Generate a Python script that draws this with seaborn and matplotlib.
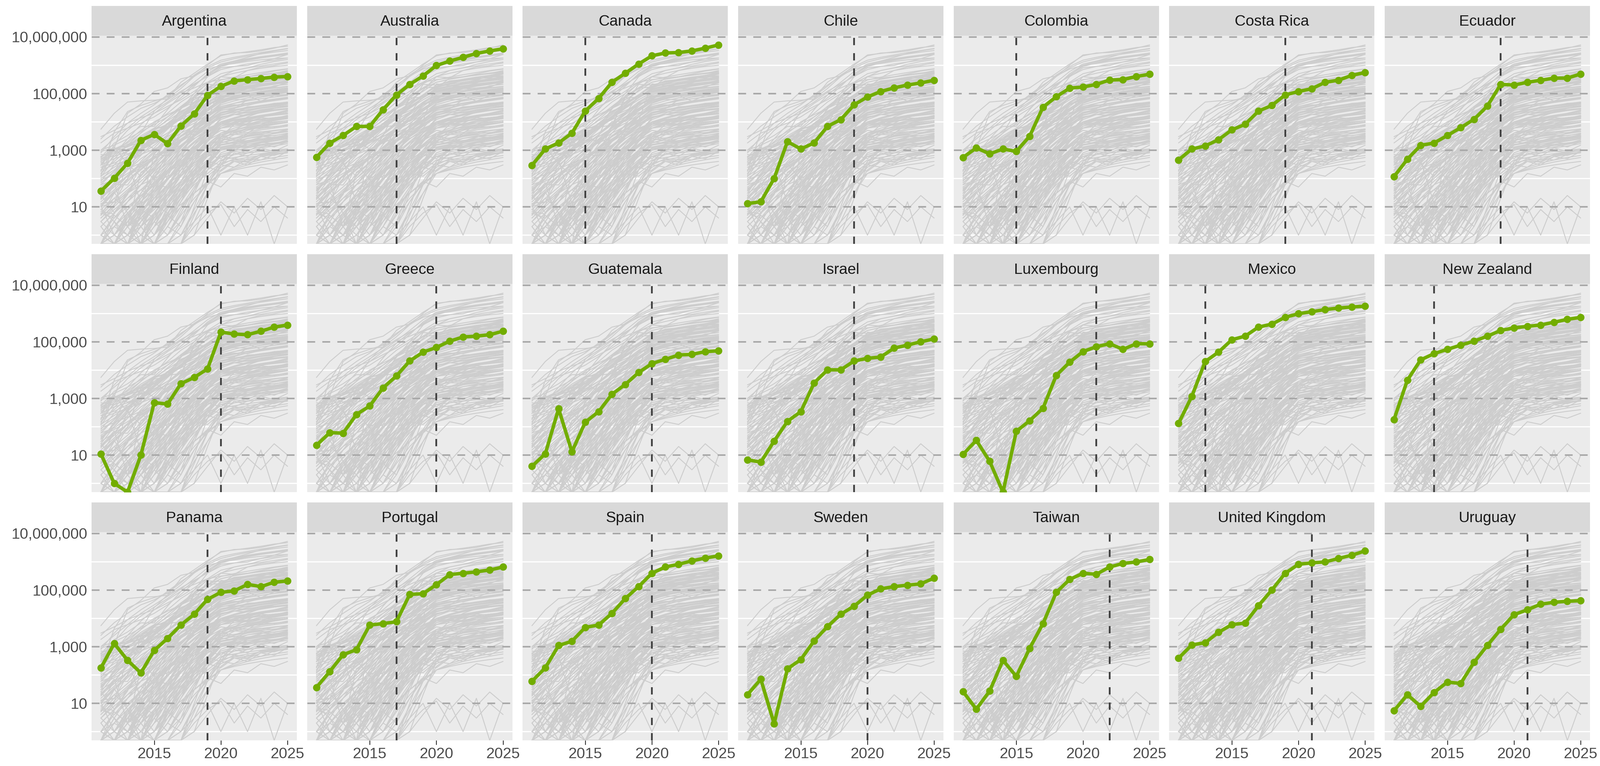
import numpy as np
import pandas as pd
import matplotlib
matplotlib.use("Agg")
import matplotlib.pyplot as plt
import seaborn as sns
from matplotlib.ticker import FixedLocator, FuncFormatter, NullLocator

# ---------------- data ----------------
years = list(range(2011, 2026))

countries = ["Argentina", "Australia", "Canada", "Chile", "Colombia", "Costa Rica", "Ecuador",
             "Finland", "Greece", "Guatemala", "Israel", "Luxembourg", "Mexico", "New Zealand",
             "Panama", "Portugal", "Spain", "Sweden", "Taiwan", "United Kingdom", "Uruguay"]

policy_year = [2019, 2017, 2015, 2019, 2015, 2019, 2019,
               2020, 2020, 2020, 2019, 2021, 2013, 2014,
               2019, 2017, 2020, 2020, 2022, 2021, 2021]

argentina = [36, 102, 350, 2240, 3600, 1700, 7200, 19000, 87000, 180000, 280000, 310000, 340000, 380000, 400000]
australia = [560, 1780, 3300, 6900, 6900, 27000, 89000, 210000, 420000, 980000, 1400000, 1900000, 2600000, 3200000, 3800000]
canada = [290, 1100, 1800, 4000, 24000, 67000, 250000, 520000, 1100000, 2150000, 2700000, 2800000, 3200000, 4000000, 5200000]
chile = [13, 15, 100, 2000, 1100, 1800, 6900, 12000, 40000, 76000, 118000, 158000, 200000, 236000, 295000]
colombia = [550, 1200, 740, 1100, 900, 3100, 33000, 77000, 155000, 170000, 210000, 300000, 310000, 400000, 480000]
costa_rica = [450, 1100, 1400, 2350, 5200, 8200, 24000, 38000, 89000, 118000, 148000, 250000, 295000, 440000, 550000]
ecuador = [115, 480, 1480, 1780, 3300, 6200, 12300, 36000, 210000, 200000, 250000, 295000, 350000, 350000, 490000]
finland = [11, 1, 0, 10, 710, 630, 3300, 5500, 11000, 220000, 188000, 178000, 236000, 330000, 390000]
greece = [22, 62, 59, 270, 540, 2350, 6200, 21000, 43000, 63000, 105000, 148000, 158000, 178000, 236000]
guatemala = [4, 11, 430, 13, 145, 340, 1400, 3100, 8200, 17000, 24000, 34000, 36000, 45000, 48000]
israel = [6.8, 5.6, 31, 155, 340, 3500, 10200, 10200, 21000, 26000, 29000, 60000, 76000, 100000, 126000]
luxembourg = [10.5, 33, 6, 0, 69, 162, 450, 6500, 19000, 45000, 67000, 85000, 54000, 85000, 85000]
mexico = [130, 1180, 20000, 43000, 118000, 158000, 330000, 420000, 730000, 980000, 1150000, 1370000, 1550000, 1700000, 1800000]
new_zealand = [180, 4400, 23000, 38000, 54000, 76000, 105000, 158000, 250000, 310000, 350000, 390000, 490000, 620000, 730000]
panama = [178, 1290, 330, 118, 740, 1950, 5800, 14000, 47000, 83000, 93000, 158000, 132000, 188000, 210000]
portugal = [36, 132, 520, 780, 5800, 6500, 7600, 70000, 74000, 155000, 350000, 390000, 440000, 510000, 650000]
spain = [60, 178, 1100, 1550, 4800, 5800, 15000, 50000, 132000, 390000, 650000, 810000, 1070000, 1350000, 1600000]
sweden = [20, 71, 1.9, 165, 350, 1600, 5100, 14000, 27000, 66000, 110000, 132000, 148000, 166000, 263000]
taiwan = [26, 6.2, 27, 330, 89, 870, 6500, 83000, 236000, 390000, 360000, 650000, 870000, 980000, 1200000]
united_kingdom = [390, 1150, 1380, 3200, 6000, 6800, 28000, 100000, 390000, 810000, 910000, 980000, 1300000, 1700000, 2400000]
uruguay = [5.5, 20, 7.8, 24, 56, 50, 280, 1100, 4100, 13500, 20000, 31600, 37000, 40000, 42000]

highlight_values = [argentina, australia, canada, chile, colombia, costa_rica, ecuador,
                    finland, greece, guatemala, israel, luxembourg, mexico, new_zealand,
                    panama, portugal, spain, sweden, taiwan, united_kingdom, uruguay]

# other countries forming the grey background
bg_high = [
    [5500, 20000, 50000, 55000, 58000, 65000, 150000, 400000, 1000000, 2300000, 2600000, 3000000, 3500000, 4200000, 4700000],
    [2500, 7000, 15000, 30000, 45000, 80000, 180000, 450000, 900000, 1500000, 1900000, 2300000, 2800000, 3300000, 3900000],
    [800, 3000, 9000, 20000, 40000, 90000, 200000, 400000, 800000, 1300000, 1700000, 2100000, 2500000, 2900000, 3300000],
    [1800, 4000, 6000, 9000, 15000, 30000, 70000, 180000, 500000, 1000000, 1300000, 1600000, 1900000, 2200000, 2600000],
    [300, 1500, 5000, 12000, 25000, 50000, 110000, 250000, 600000, 1100000, 1400000, 1700000, 2000000, 2300000, 2700000],
    [1000, 2500, 6000, 15000, 30000, 60000, 120000, 220000, 400000, 700000, 900000, 1100000, 1300000, 1500000, 1800000],
    [3000, 5000, 9000, 14000, 20000, 35000, 60000, 120000, 250000, 500000, 650000, 800000, 950000, 1100000, 1300000],
    [150, 700, 2500, 8000, 20000, 45000, 90000, 200000, 450000, 900000, 1200000, 1500000, 1800000, 2100000, 2400000],
]
bg_mid = [
    [200, 600, 1500, 4000, 9000, 20000, 50000, 100000, 220000, 400000, 520000, 650000, 780000, 900000, 1000000],
    [80, 300, 900, 2500, 6000, 15000, 35000, 80000, 160000, 300000, 380000, 460000, 550000, 650000, 750000],
    [500, 900, 1300, 2000, 3500, 7000, 15000, 40000, 90000, 200000, 260000, 320000, 380000, 440000, 500000],
    [30, 150, 600, 1800, 5000, 12000, 30000, 70000, 150000, 250000, 320000, 380000, 450000, 500000, 560000],
    [700, 600, 900, 1500, 2200, 4000, 9000, 20000, 45000, 90000, 120000, 150000, 180000, 210000, 250000],
    [100, 200, 500, 1200, 3000, 8000, 18000, 40000, 80000, 140000, 180000, 220000, 260000, 300000, 340000],
    [10, 60, 250, 900, 2500, 6000, 14000, 30000, 60000, 110000, 140000, 170000, 200000, 230000, 260000],
    [300, 500, 700, 1000, 1800, 3000, 6000, 12000, 25000, 50000, 65000, 80000, 95000, 110000, 130000],
    [50, 100, 300, 700, 1500, 3500, 8000, 18000, 40000, 75000, 95000, 115000, 135000, 155000, 175000],
    [900, 1200, 1000, 1400, 2000, 3000, 5000, 9000, 18000, 35000, 45000, 55000, 65000, 75000, 90000],
    [20, 50, 120, 300, 800, 2000, 5000, 12000, 28000, 55000, 70000, 90000, 110000, 130000, 150000],
    [150, 400, 1000, 2000, 4000, 8000, 15000, 25000, 40000, 60000, 70000, 80000, 90000, 100000, 110000],
    [5, 30, 100, 400, 1200, 3500, 9000, 22000, 50000, 100000, 130000, 160000, 190000, 220000, 250000],
    [400, 800, 2000, 5000, 10000, 18000, 30000, 50000, 80000, 120000, 150000, 180000, 210000, 240000, 280000],
    [60, 90, 200, 500, 1000, 2000, 4000, 7000, 12000, 20000, 25000, 30000, 36000, 42000, 50000],
    [250, 350, 600, 1100, 2500, 6000, 13000, 30000, 70000, 160000, 220000, 290000, 360000, 430000, 520000],
    [40, 120, 400, 1200, 3500, 9000, 20000, 45000, 90000, 170000, 210000, 250000, 290000, 330000, 370000],
    [15, 40, 120, 350, 900, 2500, 6000, 14000, 30000, 60000, 75000, 90000, 105000, 120000, 135000],
    [120, 250, 500, 1000, 2000, 4000, 8000, 15000, 30000, 55000, 68000, 80000, 92000, 104000, 116000],
    [25, 100, 350, 1000, 2800, 7000, 16000, 35000, 70000, 130000, 160000, 190000, 220000, 250000, 280000],
    [600, 1000, 1600, 2500, 4000, 7000, 12000, 22000, 40000, 70000, 85000, 100000, 115000, 130000, 145000],
    [8, 20, 50, 130, 350, 900, 2200, 5000, 11000, 22000, 27000, 32000, 37000, 42000, 47000],
    [200, 300, 450, 700, 1100, 1800, 3000, 5500, 10000, 18000, 22000, 26000, 30000, 34000, 38000],
    [70, 180, 450, 1100, 2700, 6500, 15000, 33000, 70000, 140000, 175000, 210000, 245000, 280000, 315000],
    [12, 35, 90, 220, 500, 1100, 2300, 4500, 8500, 15000, 18000, 21000, 24000, 27000, 30000],
    [350, 700, 1400, 2800, 5500, 11000, 22000, 45000, 90000, 180000, 230000, 280000, 330000, 380000, 430000],
    [4, 12, 35, 100, 300, 800, 2000, 5000, 12000, 28000, 36000, 44000, 52000, 60000, 68000],
    [45, 80, 150, 300, 600, 1200, 2500, 5000, 10000, 20000, 25000, 30000, 35000, 40000, 45000],
    [2, 6, 20, 60, 180, 500, 1300, 3200, 7500, 17000, 22000, 27000, 32000, 37000, 42000],
    [90, 140, 220, 350, 550, 900, 1500, 2600, 4500, 8000, 9500, 11000, 12500, 14000, 15500],
    [1000, 1500, 2500, 4500, 8000, 15000, 30000, 60000, 120000, 250000, 320000, 390000, 460000, 530000, 600000],
    [18, 60, 200, 650, 2000, 5500, 14000, 32000, 70000, 150000, 190000, 230000, 270000, 310000, 350000],
]
bg_late = [
    [0, 0, 3, 20, 100, 500, 2000, 8000, 25000, 60000, 80000, 100000, 120000, 140000, 160000],
    [0, 0, 0, 0, 5, 40, 300, 1500, 6000, 20000, 30000, 40000, 50000, 60000, 70000],
    [0, 2, 8, 30, 120, 400, 1200, 3500, 9000, 20000, 26000, 32000, 38000, 44000, 50000],
    [0, 0, 0, 2, 10, 60, 300, 1200, 4000, 10000, 14000, 18000, 22000, 26000, 30000],
    [0, 0, 0, 0, 0, 0, 2, 30, 300, 2000, 5000, 9000, 14000, 20000, 26000],
    [1, 4, 15, 60, 200, 700, 2000, 6000, 15000, 35000, 45000, 55000, 65000, 75000, 85000],
    [0, 0, 1, 5, 30, 150, 600, 2000, 5000, 10000, 12000, 14000, 16000, 18000, 20000],
    [0, 0, 0, 0, 0, 3, 20, 150, 800, 3000, 5000, 7000, 9000, 11000, 13000],
    [0, 3, 0, 6, 25, 90, 300, 900, 2500, 6000, 8000, 10000, 12000, 14000, 16000],
    [0, 0, 0, 0, 1, 10, 80, 500, 2500, 9000, 14000, 19000, 24000, 30000, 36000],
    [2, 0, 5, 15, 50, 200, 800, 3000, 10000, 30000, 45000, 60000, 75000, 90000, 110000],
    [0, 0, 0, 0, 0, 0, 0, 5, 60, 400, 1000, 1800, 2800, 4000, 5500],
    [0, 0, 2, 10, 40, 150, 500, 1500, 4000, 9000, 11000, 13000, 15000, 17000, 19000],
    [0, 1, 0, 3, 10, 40, 150, 600, 2000, 6000, 9000, 12000, 16000, 20000, 25000],
    [0, 0, 0, 1, 0, 4, 30, 200, 1000, 4000, 6000, 8000, 10000, 12000, 15000],
    [0, 0, 0, 0, 0, 0, 0, 10, 200, 3000, 8000, 15000, 22000, 30000, 38000],
    [0, 0, 0, 0, 0, 0, 0, 1, 20, 300, 1500, 4000, 8000, 12000, 16000],
    [0, 0, 0, 0, 3, 30, 200, 1000, 4000, 12000, 18000, 24000, 30000, 36000, 42000],
    [0, 0, 0, 5, 40, 250, 1000, 3000, 7000, 14000, 18000, 22000, 26000, 30000, 34000],
    [0, 0, 4, 30, 150, 600, 2000, 5000, 12000, 25000, 32000, 40000, 48000, 56000, 65000],
    [0, 6, 30, 120, 400, 1200, 3000, 7000, 15000, 30000, 38000, 46000, 55000, 64000, 74000],
    [0, 0, 0, 0, 0, 2, 15, 120, 700, 2500, 4000, 5500, 7000, 8500, 10000],
    [0, 0, 0, 0, 1, 8, 50, 250, 1000, 3500, 5000, 6500, 8000, 9500, 11000],
    [0, 0, 2, 15, 80, 300, 1000, 2500, 5500, 10000, 12000, 14000, 16000, 18000, 20000],
    [0, 1, 5, 20, 70, 250, 700, 1800, 4000, 8000, 9500, 11000, 12500, 14000, 15500],
    [0, 0, 0, 3, 20, 100, 400, 1200, 3000, 6000, 7000, 8000, 9000, 10000, 11000],
    [0, 0, 0, 0, 0, 0, 3, 40, 400, 2000, 3500, 5000, 6500, 8000, 9500],
    [0, 0, 0, 0, 0, 5, 50, 400, 2000, 7000, 10000, 13000, 16000, 19000, 22000],
    [0, 0, 1, 8, 50, 250, 1200, 5000, 15000, 40000, 55000, 70000, 85000, 100000, 115000],
    [0, 0, 0, 2, 15, 120, 800, 4000, 15000, 45000, 65000, 85000, 105000, 125000, 145000],
    [0, 3, 15, 60, 250, 1000, 4000, 12000, 35000, 80000, 100000, 120000, 140000, 160000, 180000],
    [0, 0, 0, 0, 2, 20, 150, 800, 3000, 9000, 13000, 17000, 21000, 25000, 29000],
    [0, 0, 0, 0, 4, 25, 120, 500, 1600, 4000, 5200, 6400, 7600, 8800, 10000],
]
bg_low = [
    [0, 1, 3, 8, 20, 50, 120, 300, 700, 1500, 1800, 2100, 2400, 2700, 3000],
    [0, 0, 0, 0, 2, 6, 20, 60, 150, 350, 450, 550, 650, 750, 850],
    [3, 8, 20, 40, 70, 120, 200, 350, 600, 1000, 1200, 1400, 1600, 1800, 2000],
    [0, 0, 1, 0, 2, 5, 12, 30, 70, 150, 200, 250, 300, 350, 400],
    [0, 0, 0, 0, 0, 1, 5, 20, 60, 150, 220, 300, 380, 460, 550],
    [10, 15, 30, 60, 100, 180, 300, 500, 800, 1300, 1600, 1900, 2200, 2500, 2800],
    [0, 0, 0, 1, 3, 10, 30, 80, 200, 450, 550, 650, 750, 850, 950],
    [1, 0, 2, 4, 10, 25, 60, 140, 300, 600, 700, 800, 900, 1000, 1100],
    [0, 0, 0, 2, 5, 15, 40, 100, 250, 180, 400, 300, 600, 500, 900],
    [0, 0, 1, 3, 8, 25, 60, 150, 120, 300, 250, 500, 450, 700, 800],
    [0, 0, 0, 0, 1, 3, 10, 30, 80, 50, 150, 120, 250, 200, 300],
    [3, 1, 6, 2, 10, 30, 80, 250, 700, 1800, 2500, 3200, 4000, 4800, 5600],
    [1, 5, 2, 8, 4, 20, 70, 200, 600, 1500, 2000, 2600, 3200, 3800, 4500],
    [8, 3, 15, 40, 20, 90, 300, 1000, 3000, 8000, 11000, 14000, 17000, 20000, 24000],
    [0, 2, 1, 4, 12, 6, 30, 120, 400, 1200, 1600, 2000, 2400, 2800, 3300],
    [0, 0, 0, 1, 6, 30, 120, 400, 1000, 2200, 2700, 3200, 3700, 4200, 4700],
    [0, 0, 0, 0, 0, 1, 6, 40, 200, 700, 950, 1200, 1450, 1700, 1950],
    [0, 0, 1, 3, 12, 40, 120, 350, 800, 1600, 1900, 2200, 2500, 2800, 3100],
    [0, 2, 8, 25, 70, 200, 500, 1100, 2200, 4000, 4700, 5400, 6100, 6800, 7500],
    [1, 0, 2, 0, 3, 1, 8, 40, 200, 800, 1200, 1600, 2000, 2400, 2800],
    [0, 1, 0, 2, 0, 5, 2, 15, 80, 400, 700, 1000, 1300, 1600, 1900],
    [2, 0, 1, 4, 1, 6, 20, 80, 300, 1000, 1400, 1800, 2200, 2600, 3000],
    [0, 0, 1, 0, 0, 2, 1, 6, 30, 150, 250, 350, 450, 550, 650],
    [0, 0, 0, 1, 4, 15, 50, 150, 400, 300, 800, 600, 1200, 900, 1500],
    [0, 0, 2, 6, 20, 60, 150, 350, 700, 500, 1100, 900, 1600, 1300, 2000],
]
bg_noisy = [
    [0, 0, 1, 4, 15, 60, 250, 900, 2500, 5000, 4200, 6000, 7000, 6500, 8000],
    [0, 0, 0, 0, 2, 12, 80, 400, 1500, 3000, 2600, 3800, 4500, 4000, 5200],
    [5, 15, 40, 100, 250, 600, 1400, 3000, 6000, 9000, 8000, 11000, 12000, 11000, 14000],
    [0, 1, 3, 10, 30, 90, 250, 600, 1300, 2500, 2200, 3000, 3500, 3200, 4000],
    [0, 0, 0, 0, 0, 0, 1, 8, 60, 300, 500, 450, 700, 650, 900],
    [0, 0, 0, 1, 0, 3, 15, 70, 250, 600, 500, 800, 900, 850, 1100],
    [2, 6, 15, 40, 110, 300, 800, 2000, 4500, 9000, 11000, 10000, 14000, 13000, 17000],
    [0, 0, 2, 5, 15, 45, 130, 350, 900, 2000, 1700, 2600, 3000, 2800, 3600],
    [30, 60, 120, 250, 500, 1000, 2000, 4000, 8000, 15000, 18000, 17000, 22000, 25000, 28000],
    [0, 0, 0, 0, 1, 4, 20, 100, 400, 1200, 1000, 1600, 1900, 1700, 2300],
    [0, 3, 1, 7, 20, 60, 200, 700, 2200, 6000, 8500, 8000, 11000, 13000, 15000],
    [1, 2, 6, 15, 40, 100, 250, 600, 1400, 3000, 3600, 3400, 4400, 5000, 5600],
    [0, 0, 0, 3, 8, 25, 80, 250, 700, 1800, 2300, 2100, 2900, 3300, 3800],
    [10, 30, 80, 200, 500, 1300, 3200, 7500, 16000, 32000, 40000, 38000, 50000, 58000, 66000],
    [0, 0, 0, 0, 0, 2, 10, 50, 200, 600, 900, 800, 1200, 1400, 1700],
    [0, 1, 4, 12, 35, 100, 280, 700, 1600, 3500, 4500, 4200, 5800, 6600, 7600],
    [0, 0, 0, 0, 0, 0, 0, 3, 30, 200, 450, 400, 700, 800, 1000],
    [6, 4, 10, 25, 60, 150, 400, 1000, 2500, 6000, 8000, 7500, 10000, 11500, 13000],
    [0, 0, 1, 2, 6, 20, 60, 180, 450, 1000, 1300, 1200, 1600, 1800, 2100],
    [0, 2, 6, 20, 60, 180, 500, 1300, 3000, 7000, 9000, 8500, 11000, 12500, 14000],
    [0, 0, 0, 0, 3, 15, 60, 200, 600, 1500, 2000, 1800, 2500, 2900, 3300],
    [20, 50, 130, 350, 900, 2200, 5000, 11000, 24000, 50000, 62000, 60000, 75000, 85000, 95000],
    [0, 0, 0, 2, 0, 6, 25, 100, 350, 1000, 1400, 1300, 1800, 2100, 2500],
    [3, 10, 30, 80, 220, 600, 1500, 3500, 8000, 17000, 22000, 21000, 27000, 31000, 35000],
    [0, 0, 0, 0, 0, 1, 3, 15, 70, 250, 400, 380, 600, 700, 850],
    [0, 0, 3, 10, 30, 100, 350, 1100, 3300, 9000, 12000, 11500, 15000, 17500, 20000],
    [1, 0, 3, 1, 5, 12, 40, 130, 400, 1100, 1500, 1400, 1900, 2200, 2600],
    [0, 0, 0, 0, 1, 6, 35, 180, 800, 2800, 4000, 3800, 5200, 6000, 7000],
]
bg_spiky = [
    [0, 0, 0, 0, 0, 0, 1, 3, 10, 1, 10, 1, 15, 0, 10],
    [0, 0, 0, 0, 0, 0, 0, 2, 6, 12, 2, 8, 3, 10, 4],
    [0, 0, 0, 0, 0, 0, 0, 1, 4, 15, 6, 20, 8, 25, 10],
]

# ---------------- style ----------------
GREEN = "#72AD00"
GREY_LINE = "#CDCDCD"
PANEL_BG = "#EBEBEB"
STRIP_BG = "#D9D9D9"

Y_LO, Y_HI = 10 ** -0.31, 10 ** 7.044
X_LO, X_HI = 2010.3, 2025.7

sns.set_theme(style="white")
plt.rcParams["font.family"] = ["Liberation Sans", "DejaVu Sans"]

W, H = 5120, 2450
DPI = 200
fig = plt.figure(figsize=(W / DPI, H / DPI), dpi=DPI)
fig.patch.set_facecolor("white")

COL0, COL_PITCH, PW = 293, 689.67, 657
ROW0, ROW_PITCH, PH = 114, 794, 666
STRIP_H = 95

# long background table (zeros drawn at the panel edge like -Inf)
all_bg = list(highlight_values) + bg_high + bg_mid + bg_late + bg_low + bg_noisy + bg_spiky
rows = []
for i, series in enumerate(all_bg):
    for yr, v in zip(years, series):
        rows.append((i, yr, v if v > 0 else Y_LO))
bg_df = pd.DataFrame(rows, columns=["line", "year", "value"])

fmt = FuncFormatter(lambda v, p: f"{v:,.0f}")

for k, name in enumerate(countries):
    r, c = divmod(k, 7)
    left = COL0 + c * COL_PITCH
    top = ROW0 + r * ROW_PITCH
    ax = fig.add_axes([left / W, 1 - (top + PH) / H, PW / W, PH / H])
    ax.set_facecolor(PANEL_BG)
    ax.set_yscale("log")
    ax.set_xlim(X_LO, X_HI)
    ax.set_ylim(Y_LO, Y_HI)
    for s in ax.spines.values():
        s.set_visible(False)

    # minor white grid
    for gv in [1, 100, 1e4, 1e6]:
        ax.axhline(gv, color="white", lw=1.4, zorder=0.5)

    sns.lineplot(data=bg_df, x="year", y="value", units="line", estimator=None,
                 color=GREY_LINE, linewidth=1.05, ax=ax, legend=False, zorder=1)

    for gv in [10, 1e3, 1e5, 1e7]:
        ax.axhline(gv, color="#A8A8A8", lw=1.8, ls=(0, (5, 4.6)), zorder=2)

    ax.axvline(policy_year[k], color="#3F3F3F", lw=2.0, ls=(0, (4.2, 4.6)), zorder=3)

    vals = [v if v > 0 else Y_LO for v in highlight_values[k]]
    sns.lineplot(x=years, y=vals, color=GREEN, linewidth=4.0, marker="o",
                 markersize=8.5, markeredgewidth=0, ax=ax, zorder=4)

    ax.set_xlabel("")
    ax.set_ylabel("")
    ax.yaxis.set_major_locator(FixedLocator([10, 1e3, 1e5, 1e7]))
    ax.yaxis.set_minor_locator(NullLocator())
    ax.xaxis.set_major_locator(FixedLocator([2015, 2020, 2025]))
    ax.xaxis.set_minor_locator(NullLocator())
    ax.grid(False)

    if c == 0:
        ax.yaxis.set_major_formatter(fmt)
        ax.tick_params(axis="y", length=0, pad=5, labelsize=17.5, labelcolor="#4D4D4D")
    else:
        ax.tick_params(axis="y", length=0, labelleft=False)

    if r == 2:
        ax.tick_params(axis="x", length=5, width=1.0, color="#333333", pad=3,
                       labelsize=17.5, labelcolor="#4D4D4D", bottom=True)
        ax.set_xticklabels(["2015", "2020", "2025"])
    else:
        ax.tick_params(axis="x", length=0, labelbottom=False)

    # facet strip
    sax = fig.add_axes([left / W, 1 - top / H, PW / W, STRIP_H / H])
    sax.set_facecolor(STRIP_BG)
    sax.set_xticks([])
    sax.set_yticks([])
    for s in sax.spines.values():
        s.set_visible(False)
    sax.text(0.5, 0.47, name, ha="center", va="center", fontsize=17.5,
             color="#1A1A1A", transform=sax.transAxes)

fig.savefig("out.png", dpi=DPI, facecolor="white")
